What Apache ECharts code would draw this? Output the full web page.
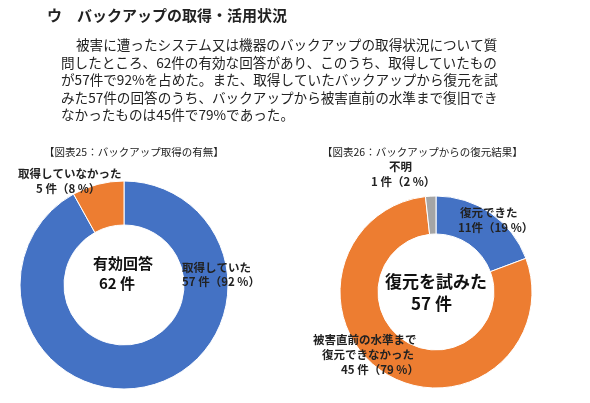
<!DOCTYPE html>
<html>
<head>
<meta charset="utf-8">
<script src="https://cdn.jsdelivr.net/npm/echarts@6/dist/echarts.min.js"></script>
<style>
  html, body { margin: 0; padding: 0; background: #fff; }
  #main { width: 590px; height: 403px; }
</style>
</head>
<body>
<div id="main"></div>
<script>
// 図表25 / 図表26 のデータ
var backupNames = ['取得していた', '取得していなかった'];
var backupValues = [57, 5];
var restoreNames = ['復元できた', '被害直前の水準まで復元できなかった', '不明'];
var restoreValues = [11, 45, 1];
var sliceColors = ['#4472C4', '#ED7D31', '#A5A5A5'];

var bodyLines = [
  '被害に遭ったシステム又は機器のバックアップの取得状況について質',
  '問したところ、62件の有効な回答があり、このうち、取得していたもの',
  'が57件で92%を占めた。また、取得していたバックアップから復元を試',
  'みた57件の回答のうち、バックアップから被害直前の水準まで復旧でき',
  'なかったものは45件で79%であった。'
];

var sans = '"Noto Sans CJK JP", sans-serif';
var chart = echarts.init(document.getElementById('main'));

function txt(x, y, s, size, weight, color) {
  return {
    type: 'text', left: x, top: y, z: 100,
    style: { text: s, font: (weight || 'normal') + ' ' + size + 'px ' + sans,
             fill: color || '#222' }
  };
}

var g = [];
g.push(txt(47, 8, 'ウ　バックアップの取得・活用状況', 15, 'bold'));
for (var i = 0; i < bodyLines.length; i++) {
  g.push(txt(i === 0 ? 76 : 61, 38 + i * 17.6, bodyLines[i], 13.6));
}
g.push(txt(44, 147, '【図表25：バックアップ取得の有無】', 10.5));
g.push(txt(322, 147, '【図表26：バックアップからの復元結果】', 10.5));
// 左の円グラフのラベル
g.push(txt(18, 168, '取得していなかった', 11.5, 'bold'));
g.push(txt(36, 183, '5 件（8 %）', 11.5, 'bold'));
g.push(txt(182, 262, '取得していた', 11.5, 'bold'));
g.push(txt(182, 276, '57 件（92 %）', 11.5, 'bold'));
g.push(txt(93, 256, '有効回答', 15, 'bold', '#111'));
g.push(txt(99, 276, '62 件', 15, 'bold', '#111'));
// 右の円グラフのラベル
g.push(txt(389, 161, '不明', 11.5, 'bold'));
g.push(txt(371, 176, '1 件（2 %）', 11.5, 'bold'));
g.push(txt(460, 207, '復元できた', 11.5, 'bold'));
g.push(txt(458, 222, '11件（19 %）', 11.5, 'bold'));
g.push(txt(385, 273, '復元を試みた', 17, 'bold', '#111'));
g.push(txt(411, 295, '57 件', 17, 'bold', '#111'));
g.push(txt(313, 334, '被害直前の水準まで', 11.5, 'bold'));
g.push(txt(322, 349, '復元できなかった', 11.5, 'bold'));
g.push(txt(341, 364, '45 件（79 %）', 11.5, 'bold'));

function mk(names, values) {
  return names.map(function (n, i) {
    return { name: n, value: values[i], itemStyle: { color: sliceColors[i] } };
  });
}

chart.setOption({
  animation: false,
  graphic: g,
  series: [
    {
      type: 'pie', center: [124, 285], radius: [60, 104], startAngle: 90, clockwise: true,
      label: { show: false }, labelLine: { show: false },
      itemStyle: { borderColor: '#fff', borderWidth: 1 },
      data: mk(backupNames, backupValues)
    },
    {
      type: 'pie', center: [436, 292], radius: [58, 96], startAngle: 90, clockwise: true,
      label: { show: false }, labelLine: { show: false },
      itemStyle: { borderColor: '#fff', borderWidth: 1 },
      data: mk(restoreNames, restoreValues)
    }
  ]
});
</script>
</body>
</html>
